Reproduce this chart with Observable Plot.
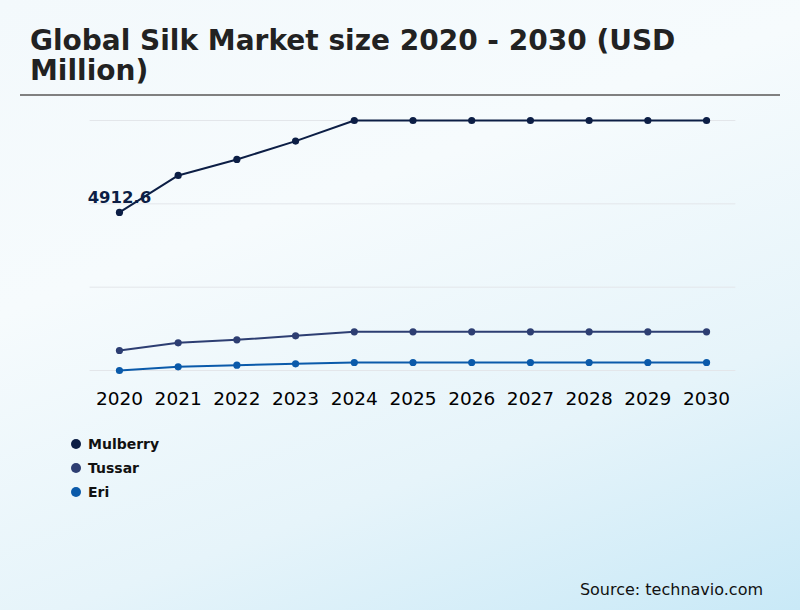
<!DOCTYPE html>
<html>
<head>
<meta charset="utf-8">
<script src="https://cdn.jsdelivr.net/npm/d3@7"></script>
<script src="https://cdn.jsdelivr.net/npm/@observablehq/plot@0.6"></script>
<style>
  html, body { margin: 0; padding: 0; }
  body {
    width: 800px; height: 610px; overflow: hidden; position: relative;
    font-family: "DejaVu Sans", sans-serif;
    background: linear-gradient(160deg, #f3f9fc 0%, #f6fbfd 35%, #e6f4fa 70%, #c9e9f7 100%);
  }
  #title {
    position: absolute; left: 30px; top: 26px; width: 700px;
    font-size: 28px; font-weight: bold; color: #222; line-height: 30px;
  }
  #rule { position: absolute; left: 20px; top: 94px; width: 760px; height: 2px; background: #808080; }
  #chart { position: absolute; left: 0; top: 100px; }
  #legend { position: absolute; left: 71px; top: 432px; }
  .li { display: flex; align-items: center; height: 24px; font-size: 14px; font-weight: bold; color: #111; }
  .dot { width: 10px; height: 10px; border-radius: 50%; margin-right: 7px; }
  #source { position: absolute; right: 37px; top: 580px; font-size: 16px; color: #111; }
</style>
</head>
<body>
<div id="title">Global Silk Market size 2020 - 2030 (USD Million)</div>
<div id="rule"></div>
<div id="chart"></div>
<div id="legend"></div>
<div id="source">Source: technavio.com</div>
<script>
const years = ["2020","2021","2022","2023","2024","2025","2026","2027","2028","2029","2030"];
const seriesNames = ["Mulberry", "Tussar", "Eri"];
const seriesColors = ["#0c1e45", "#2d3e72", "#0a5aaa"];
const mulberry = [4912.6, 5991, 6457, 6993, 7594, 7594, 7594, 7594, 7594, 7594, 7594];
const tussar   = [883, 1107, 1195, 1311, 1428, 1428, 1428, 1428, 1428, 1428, 1428];
const eri      = [300, 408, 454, 495, 533, 533, 533, 533, 533, 533, 533];
const labelText = "4912.6";

const valuesBySeries = [mulberry, tussar, eri];
const data = [];
seriesNames.forEach((s, i) => years.forEach((y, j) => data.push({series: s, year: y, value: valuesBySeries[i][j]})));

const all = data.map(d => d.value);
const yMin = d3.min(all), yMax = d3.max(all);
const gridTicks = d3.range(4).map(i => yMin + i * (yMax - yMin) / 3);

const chart = Plot.plot({
  width: 800,
  height: 320,
  marginTop: 20,
  marginBottom: 50,
  marginLeft: 89.6,
  marginRight: 64.6,
  style: { background: "transparent", fontFamily: "DejaVu Sans, sans-serif" },
  x: { type: "point", domain: years, padding: 0.5, round: false, label: null },
  y: { domain: [yMin, yMax], axis: null },
  color: { domain: seriesNames, range: seriesColors },
  marks: [
    Plot.ruleY(gridTicks, { stroke: "#e3e6ea", strokeWidth: 1 }),
    Plot.axisX({ tickSize: 0, tickPadding: 21, fontSize: 18.5, fill: "#000", label: null }),
    Plot.line(data, { x: "year", y: "value", z: "series", stroke: "series", strokeWidth: 2 }),
    Plot.dot(data, { x: "year", y: "value", fill: "series", r: 3.6 }),
    Plot.text(data.filter(d => d.series === "Mulberry" && d.year === "2020"), {
      x: "year", y: "value", text: () => labelText, dy: -15,
      fontSize: 16.5, fontWeight: "bold", fill: "#0c1e45"
    })
  ]
});
document.getElementById("chart").appendChild(chart);

const legend = document.getElementById("legend");
seriesNames.forEach((s, i) => {
  const row = document.createElement("div");
  row.className = "li";
  row.innerHTML = `<span class="dot" style="background:${seriesColors[i]}"></span>${s}`;
  legend.appendChild(row);
});
</script>
</body>
</html>
